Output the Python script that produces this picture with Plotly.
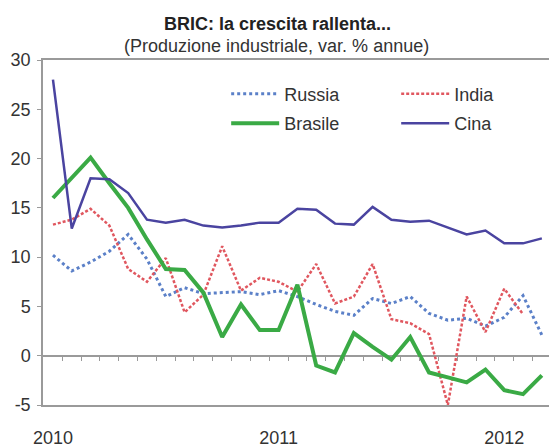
import plotly.graph_objects as go

# ---- data (monthly, Jan 2010 - Mar 2012) ----
months = list(range(27))
tick_pos = [0, 12, 24]
tick_text = ["2010", "2011", "2012"]
y_ticks = [-5, 0, 5, 10, 15, 20, 25, 30]
y_tick_text = ["-5", "0", "5", "10", "15", "20", "25", "30"]

russia = [10.2, 8.6, 9.5, 10.6, 12.3, 9.8, 6.0, 6.9, 6.3, 6.4, 6.5, 6.2, 6.6,
          6.0, 5.2, 4.5, 4.1, 5.8, 5.3, 6.0, 4.3, 3.6, 3.8, 3.0, 3.9, 6.1, 2.1]
india = [13.3, 13.8, 14.9, 13.2, 8.8, 7.5, 9.9, 4.4, 6.2, 11.1, 6.6, 7.9, 7.5,
         6.5, 9.3, 5.3, 6.0, 9.3, 3.7, 3.3, 2.2, -5.0, 6.0, 2.4, 6.8, 4.2]
brasile = [16.0, 18.0, 20.1, 17.5, 15.0, 11.8, 8.8, 8.7, 6.4, 1.9, 5.2, 2.6, 2.6,
           7.2, -1.0, -1.7, 2.3, 0.9, -0.4, 1.9, -1.7, -2.2, -2.7, -1.4, -3.5, -3.9, -2.0]
cina = [28.0, 12.9, 18.0, 17.9, 16.5, 13.8, 13.5, 13.8, 13.2, 13.0, 13.2, 13.5, 13.5,
        14.9, 14.8, 13.4, 13.3, 15.1, 13.8, 13.6, 13.7, 13.0, 12.3, 12.7, 11.4, 11.4, 11.9]

FONT = "Liberation Sans"
W, H = 549, 448
ML, MR, MT, MB = 43, 0, 60, 36
XR = [-0.53, 26.38]
YR = [-5, 30]

fig = go.Figure()
fig.add_trace(go.Scatter(x=months[:len(russia)], y=russia, name="Russia", mode="lines",
                         line=dict(color="#5b80c8", width=3, dash="dot"),
                         legend="legend", legendgroup="r"))
fig.add_trace(go.Scatter(x=months[:len(india)], y=india, name="India", mode="lines",
                         line=dict(color="#e0575f", width=2.5, dash="3px,2px"),
                         legend="legend2", legendgroup="i"))
fig.add_trace(go.Scatter(x=months[:len(brasile)], y=brasile, name="Brasile", mode="lines",
                         line=dict(color="#3aaa45", width=4),
                         legend="legend", legendgroup="b"))
fig.add_trace(go.Scatter(x=months[:len(cina)], y=cina, name="Cina", mode="lines",
                         line=dict(color="#4a44a0", width=2.5),
                         legend="legend2", legendgroup="c"))
# invisible helper trace for the tick axis on the zero line
fig.add_trace(go.Scatter(x=months, y=cina, xaxis="x2", mode="lines", opacity=0,
                         showlegend=False, hoverinfo="skip"))

leg_common = dict(font=dict(family=FONT, size=18, color="#333333"),
                  bgcolor="rgba(0,0,0,0)", itemwidth=48, tracegroupgap=3,
                  xanchor="left", yanchor="top")

fig.update_layout(
    width=W, height=H,
    margin=dict(l=ML, r=MR, t=MT, b=MB),
    paper_bgcolor="white", plot_bgcolor="white",
    font=dict(family=FONT, size=18, color="#333333"),
    showlegend=True,
    legend=dict(x=0.362, y=0.955, **leg_common),
    legend2=dict(x=0.698, y=0.955, **leg_common),
    xaxis=dict(range=XR, tickvals=tick_pos, ticktext=tick_text, showgrid=False,
               zeroline=False, showline=True, linecolor="#9a9a9a", linewidth=1.5,
               mirror=True, ticks="", ticklabelstandoff=16,
               tickfont=dict(family=FONT, size=18, color="#333333")),
    xaxis2=dict(range=XR, overlaying="x", anchor="free", position=5 / 35,
                tickvals=[k + 0.5 for k in range(27)], ticks="outside", ticklen=4,
                tickcolor="#9a9a9a", showticklabels=False, showgrid=False,
                zeroline=False, showline=False),
    yaxis=dict(range=YR, tickvals=y_ticks, ticktext=y_tick_text, showgrid=False,
               zeroline=True, zerolinecolor="#9a9a9a", zerolinewidth=1.5,
               showline=True, linecolor="#9a9a9a", linewidth=1.5, ticks="outside",
               ticklen=4, tickcolor="#9a9a9a", ticklabelstandoff=3,
               tickfont=dict(family=FONT, size=18, color="#333333")),
    annotations=[
        dict(text="<b>BRIC: la crescita rallenta...</b>", xref="paper", yref="paper",
             x=(277 - ML) / (W - ML - MR), y=1 + (MT - 23) / (H - MT - MB),
             xanchor="center", yanchor="middle", showarrow=False,
             font=dict(family=FONT, size=18, color="#222222")),
        dict(text="(Produzione industriale, var. % annue)", xref="paper", yref="paper",
             x=(276 - ML) / (W - ML - MR), y=1 + (MT - 46) / (H - MT - MB),
             xanchor="center", yanchor="middle", showarrow=False,
             font=dict(family=FONT, size=18, color="#333333")),
    ],
)

fig.write_html("out.html")
